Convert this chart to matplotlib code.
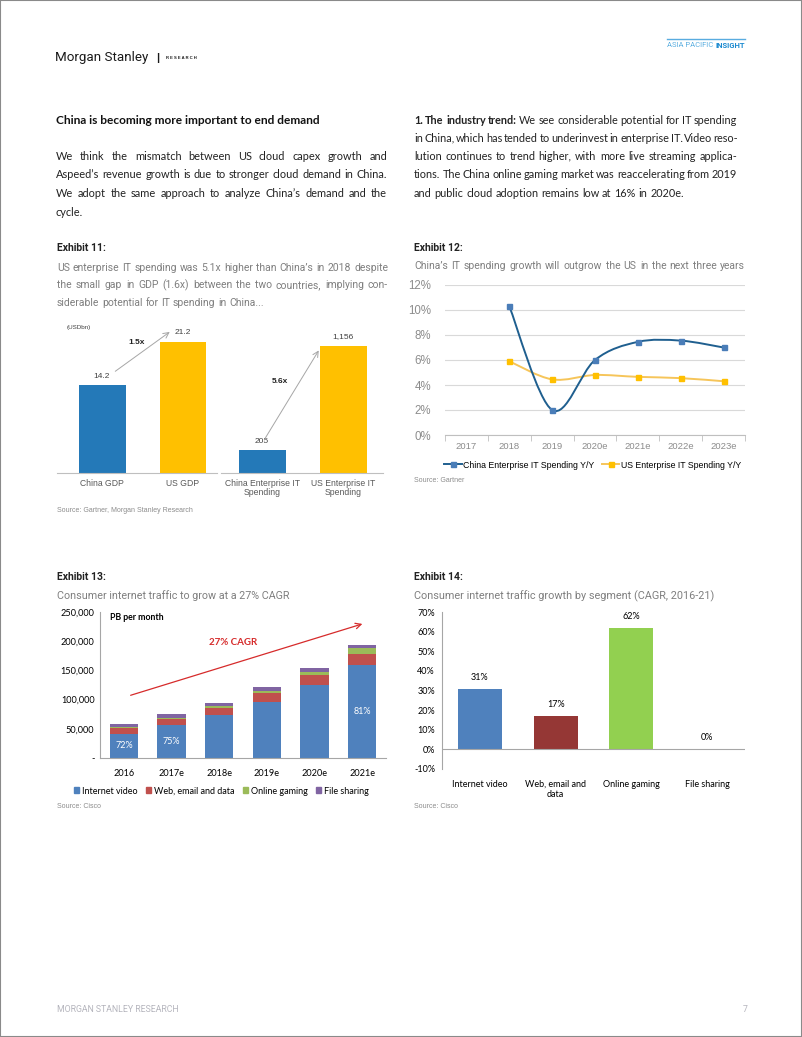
import matplotlib
matplotlib.use('Agg')
import matplotlib.pyplot as plt
from matplotlib.path import Path
from matplotlib.patches import PathPatch, Patch, Rectangle
from matplotlib.lines import Line2D

# ---- data ----
ex11_gdp_labels = ['China GDP', 'US GDP']
ex11_gdp = [14.2, 21.2]
ex11_it_labels = ['China Enterprise IT\nSpending', 'US Enterprise IT\nSpending']
ex11_it = [205, 1156]

ex12_years = ['2017', '2018', '2019', '2020e', '2021e', '2022e', '2023e']
ex12_china = [None, 10.3, 2.0, 6.0, 7.45, 7.55, 7.0]
ex12_us = [None, 5.9, 4.45, 4.8, 4.65, 4.55, 4.3]

ex13_years = ['2016', '2017e', '2018e', '2019e', '2020e', '2021e']
ex13_video = [41900, 56000, 73000, 96000, 124500, 159000]
ex13_web = [9800, 11000, 13000, 15000, 17000, 19500]
ex13_gaming = [900, 1500, 2400, 3900, 6200, 9700]
ex13_files = [6200, 6300, 6400, 6300, 6200, 6000]
ex13_share = ['72%', '75%', '', '', '', '81%']

ex14_segments = ['Internet video', 'Web, email and\ndata', 'Online gaming', 'File sharing']
ex14_cagr = [31, 17, 62, 0]

W, H = 802, 1037
fig = plt.figure(figsize=(W / 100, H / 100), dpi=100)
plt.rcParams['font.family'] = 'Liberation Sans'
renderer = fig.canvas.get_renderer()
SUB_GRAY = '#7f7f7f'


def fx(x):
    return x / W


def fy(y):
    return 1 - y / H


def ax_px(x0, y0, x1, y1):
    return fig.add_axes([fx(x0), fy(y1), (x1 - x0) / W, (y1 - y0) / H])


def fit_text(x, y, s, width, **kw):
    # shrink/grow font so the text spans `width` pixels
    t = fig.text(fx(x), fy(y), s, va='center', **kw)
    w = t.get_window_extent(renderer).width
    t.set_fontsize(t.get_fontsize() * width / w)
    return t


def text_line(x0, x1, y, line, size, color, family, weight='normal', justify=True, bold_n=0):
    words = line.split(' ')
    arts = []
    for i, w in enumerate(words):
        wt = 'bold' if i < bold_n else weight
        arts.append(fig.text(fx(x0), fy(y), w, fontsize=size, color=color,
                             family=family, weight=wt, va='center', ha='left'))
    widths = [a.get_window_extent(renderer).width for a in arts]
    space = size * 100 / 72 * 0.26
    if justify and len(words) > 1:
        gap = max(((x1 - x0) - sum(widths)) / (len(words) - 1), 1.5)
    else:
        gap = space
    x = x0
    for a, w in zip(arts, widths):
        a.set_x(fx(x))
        x += w + gap


def paragraph(x0, x1, y0, dy, lines, size, color, family, weight='normal', bold_first=0, last_justify=False):
    for i, ln in enumerate(lines):
        just = (i < len(lines) - 1) or last_justify
        text_line(x0, x1, y0 + i * dy, ln, size, color, family, weight=weight, justify=just,
                  bold_n=bold_first if i == 0 else 0)


# ---- page furniture ----
fig.patches.append(Rectangle((0, 0), 1, 1, transform=fig.transFigure, fill=False,
                             edgecolor='#8a8a8a', lw=1.5))
fit_text(55, 57, 'Morgan Stanley', 93, fontsize=10, family='Roboto', color='#1a1a1a')
fig.text(fx(156), fy(58), '|', fontsize=8, family='Liberation Sans', color='#1a1a1a', va='center', weight='bold')
fit_text(166, 58, 'R E S E A R C H', 31, fontsize=3.3, family='Liberation Sans', weight='bold',
         color='#1a1a1a')

fig.add_artist(Line2D([fx(667), fx(745)], [fy(39), fy(39)], color='#59ace0', lw=1))
t_ins = fig.text(fx(745), fy(45), 'INSIGHT', fontsize=5.5, family='Roboto', weight='bold',
                 color='#1b8ad0', ha='right', va='center')
w_ins = t_ins.get_window_extent(renderer).width
fig.text(fx(745 - w_ins - 2), fy(45), 'ASIA PACIFIC', fontsize=5.5, family='Roboto',
         color='#5aaee0', ha='right', va='center')

fig.text(fx(57), fy(1010), 'MORGAN STANLEY RESEARCH', fontsize=6.3, family='Roboto',
         color='#b5b5bd', va='center')
fig.text(fx(743), fy(1010), '7', fontsize=6.3, family='Roboto', color='#b5b5bd', va='center')

# ---- body text ----
fit_text(56, 120, 'China is becoming more important to end demand', 265, fontsize=8.4,
         family='Lato', weight='bold', color='#111111')
paragraph(56, 387, 156, 18.7, [
    'We think the mismatch between US cloud capex growth and',
    'Aspeed\u2019s revenue growth is due to stronger cloud demand in China.',
    'We adopt the same approach to analyze China\u2019s demand and the',
    'cycle.'], 7.9, '#222222', 'Lato')

paragraph(414, 737, 120, 18.3, [
    '1. The industry trend: We see considerable potential for IT spending',
    'in China, which has tended to underinvest in enterprise IT. Video reso-',
    'lution continues to trend higher, with more live streaming applica-',
    'tions. The China online gaming market was reaccelerating from 2019',
    'and public cloud adoption remains low at 16% in 2020e.'], 7.8, '#222222', 'Lato', bold_first=4)

# exhibit headers
fig.text(fx(57), fy(248), 'Exhibit 11:', fontsize=7.5, family='Roboto', weight='bold', color='#222222', va='center')
paragraph(57, 388, 268, 17.5, [
    'US enterprise IT spending was 5.1x higher than China\u2019s in 2018 despite',
    'the small gap in GDP (1.6x) between the two countries, implying con-',
    'siderable potential for IT spending in China...'], 7.5, SUB_GRAY, 'Roboto')

fig.text(fx(414), fy(248), 'Exhibit 12:', fontsize=7.5, family='Roboto', weight='bold', color='#222222', va='center')
text_line(414, 745, 266, 'China\u2019s IT spending growth will outgrow the US in the next three years',
          7.5, SUB_GRAY, 'Roboto')

fig.text(fx(57), fy(577), 'Exhibit 13:', fontsize=7.5, family='Roboto', weight='bold', color='#222222', va='center')
fit_text(57, 596, 'Consumer internet traffic to grow at a 27% CAGR', 235, fontsize=7.8,
         family='Roboto', color=SUB_GRAY)
fig.text(fx(414), fy(577), 'Exhibit 14:', fontsize=7.5, family='Roboto', weight='bold', color='#222222', va='center')
fit_text(414, 596, 'Consumer internet traffic growth by segment (CAGR, 2016-21)', 302, fontsize=7.8,
         family='Roboto', color=SUB_GRAY)

# ---- Exhibit 11 ----
blue11, yellow11 = '#2479b8', '#ffc000'
ax_a = ax_px(57, 323, 217, 473)
ax_b = ax_px(221, 323, 383, 473)
for ax, vals, labs, top, lo, hi in [(ax_a, ex11_gdp, ex11_gdp_labels, 24.28, -0.556, 1.42),
                                     (ax_b, ex11_it, ex11_it_labels, 1365, -0.506, 1.49)]:
    bars = ax.bar([0, 1], vals, width=0.58, color=[blue11, yellow11])
    ax.set_ylim(0, top)
    ax.set_xlim(lo, hi)
    for s in ['top', 'right', 'left']:
        ax.spines[s].set_visible(False)
    ax.spines['bottom'].set_color('#bfbfbf')
    ax.set_yticks([])
    ax.set_xticks([0, 1])
    ax.set_xticklabels(labs, fontsize=6.2, color='#595959', linespacing=1.0)
    ax.tick_params(axis='x', length=0, pad=4)
    for b, v in zip(bars, vals):
        lab = f'{v:,.0f}' if v > 100 else f'{v:.1f}'
        ax.annotate(lab, (b.get_x() + b.get_width() / 2, v), xytext=(0, 4),
                    textcoords='offset points', ha='center', va='bottom', fontsize=6, color='#404040')
    ax.patch.set_visible(False)

ax_a.annotate('', xy=(0.864, 23.1), xytext=(0.136, 16.2), annotation_clip=False,
              arrowprops=dict(arrowstyle='->', color='#a6a6a6', lw=0.7))
ax_a.text(0.43, 21.2, '1.5x', fontsize=6, weight='bold', ha='center', va='center', color='#222222')
ax_b.annotate('', xy=(0.716, 1137), xytext=(0.01, 282), annotation_clip=False,
              arrowprops=dict(arrowstyle='->', color='#a6a6a6', lw=0.7))
ax_b.text(0.22, 837, '5.6x', fontsize=6, weight='bold', ha='center', va='center', color='#222222')
fig.text(fx(67), fy(327), '(USDbn)', fontsize=4.5, color='#404040', va='center')
fig.text(fx(57), fy(510), 'Source: Gartner, Morgan Stanley Research', fontsize=5, color='#8c8c8c', va='center')

# ---- Exhibit 12 ----
ax12 = ax_px(445, 285, 745, 435)
ax12.set_xlim(-0.5, 6.5)
ax12.set_ylim(0, 12)
ax12.set_yticks(range(0, 13, 2))
ax12.set_yticklabels([f'{v}%' for v in range(0, 13, 2)], fontsize=8.3, color='#8c8c8c')
ax12.set_xticks(range(len(ex12_years)))
ax12.set_xticklabels(ex12_years, fontsize=6.8, color='#8c8c8c')
ax12.set_xticks([i + 0.5 for i in range(-1, 7)], minor=True)
ax12.tick_params(axis='x', which='major', length=0, pad=5)
ax12.tick_params(axis='x', which='minor', length=4, color='#bfbfbf')
ax12.tick_params(axis='y', length=0, pad=10)
ax12.grid(axis='y', color='#d9d9d9', lw=0.8)
ax12.set_axisbelow(True)
for s in ['top', 'right', 'left']:
    ax12.spines[s].set_visible(False)
ax12.spines['bottom'].set_color('#bfbfbf')


def smooth_path(xs, ys):
    pts = list(zip(xs, ys))
    verts = [pts[0]]
    codes = [Path.MOVETO]
    for i in range(len(pts) - 1):
        p0 = pts[i - 1] if i > 0 else pts[i]
        p1, p2 = pts[i], pts[i + 1]
        p3 = pts[i + 2] if i + 2 < len(pts) else p2
        c1 = (p1[0] + (p2[0] - p0[0]) / 6, p1[1] + (p2[1] - p0[1]) / 6)
        c2 = (p2[0] - (p3[0] - p1[0]) / 6, p2[1] - (p3[1] - p1[1]) / 6)
        verts += [c1, c2, p2]
        codes += [Path.CURVE4] * 3
    return Path(verts, codes)


series12 = [(ex12_china, '#1f5f8f', '#4a7db8', 'China Enterprise IT Spending Y/Y'),
            (ex12_us, '#f6c55a', '#ffc000', 'US Enterprise IT Spending Y/Y')]
handles = []
for vals, lc, mc, lab in series12[::-1]:
    xs = [i for i, v in enumerate(vals) if v is not None]
    ys = [v for v in vals if v is not None]
    ax12.add_patch(PathPatch(smooth_path(xs, ys), fill=False, edgecolor=lc, lw=1.4))
    ax12.plot(xs, ys, 's', color=mc, markersize=3.6, zorder=3)
for vals, lc, mc, lab in series12:
    handles.append(Line2D([], [], color=lc, lw=1.4, marker='s', markersize=3.6,
                          markerfacecolor=mc, markeredgecolor=mc))
fig.legend(handles, [s[3] for s in series12], loc='center left', bbox_to_anchor=(fx(444), fy(465)),
           ncol=2, frameon=False, fontsize=6.3, handlelength=2.0, handletextpad=0.15,
           columnspacing=0.9, borderpad=0, borderaxespad=0)
fig.text(fx(414), fy(481), 'Source: Gartner', fontsize=5, color='#8c8c8c', va='center')

# ---- Exhibit 13 ----
ax13 = ax_px(100, 612, 386, 758)
cols13 = ['#4f81bd', '#c0504d', '#9bbb59', '#8064a2']
names13 = ['Internet video', 'Web, email and data', 'Online gaming', 'File sharing']
x13 = range(len(ex13_years))
bottom = [0] * len(ex13_years)
for vals, c in zip([ex13_video, ex13_web, ex13_gaming, ex13_files], cols13):
    ax13.bar(x13, vals, width=0.6, bottom=bottom, color=c)
    bottom = [b + v for b, v in zip(bottom, vals)]
for i, (v, s) in enumerate(zip(ex13_video, ex13_share)):
    if s:
        ax13.text(i, v / 2, s, color='white', fontsize=6.5, family='Lato', ha='center', va='center')
ax13.set_xlim(-0.5, 5.5)
ax13.set_ylim(0, 250000)
ax13.set_yticks(range(0, 250001, 50000))
ax13.set_yticklabels(['-'] + [f'{v:,}' for v in range(50000, 250001, 50000)], fontsize=6.6, family='Lato')
ax13.set_xticks(list(x13))
ax13.set_xticklabels(ex13_years, fontsize=6.6, family='Lato')
ax13.tick_params(axis='x', length=0, pad=8)
ax13.tick_params(axis='y', length=0, pad=4)
for s in ['top', 'right']:
    ax13.spines[s].set_visible(False)
for s in ['left', 'bottom']:
    ax13.spines[s].set_color('#a6a6a6')
ax13.text(-0.29, 240000, 'PB per month', fontsize=6.3, family='Lato', weight='bold', va='center')
ax13.annotate('', xy=(5.06, 231000), xytext=(0.087, 106000),
              arrowprops=dict(arrowstyle='->', color='#d62b2b', lw=0.9))
ax13.text(2.29, 197000, '27% CAGR', fontsize=7, family='Lato', weight='bold', color='#d62b2b',
          ha='center', va='center')
fig.legend([Patch(color=c) for c in cols13], names13, loc='center left', bbox_to_anchor=(fx(74), fy(791)),
           ncol=4, frameon=False, prop={'family': 'Lato', 'size': 6.5}, handlelength=0.6, handleheight=0.6,
           handletextpad=0.3, columnspacing=0.9, borderpad=0, borderaxespad=0)
fig.text(fx(57), fy(806), 'Source: Cisco', fontsize=5, color='#8c8c8c', va='center')

# ---- Exhibit 14 ----
ax14 = ax_px(442, 612, 745, 769)
cols14 = ['#4f81bd', '#953735', '#92d050', '#8064a2']
bars14 = ax14.bar(range(len(ex14_segments)), ex14_cagr, width=0.58, color=cols14)
for b, v in zip(bars14, ex14_cagr):
    ax14.annotate(f'{v}%', (b.get_x() + b.get_width() / 2, v), xytext=(0, 5), textcoords='offset points',
                  ha='center', va='bottom', fontsize=6.5, family='Lato')
ax14.set_xlim(-0.5, 3.5)
ax14.set_ylim(-10, 70)
ax14.set_yticks(range(-10, 71, 10))
ax14.set_yticklabels([f'{v}%' for v in range(-10, 71, 10)], fontsize=6.5, family='Lato')
ax14.set_xticks(range(len(ex14_segments)))
ax14.set_xticklabels(ex14_segments, fontsize=6.5, family='Lato', linespacing=1.1, va='top')
ax14.tick_params(axis='x', length=0, pad=8)
ax14.tick_params(axis='y', length=0, pad=5)
ax14.axhline(0, color='#a6a6a6', lw=0.8)
for s in ['top', 'right', 'bottom']:
    ax14.spines[s].set_visible(False)
ax14.spines['left'].set_color('#a6a6a6')
fig.text(fx(414), fy(806), 'Source: Cisco', fontsize=5, color='#8c8c8c', va='center')

fig.savefig('out.png', dpi=100)
